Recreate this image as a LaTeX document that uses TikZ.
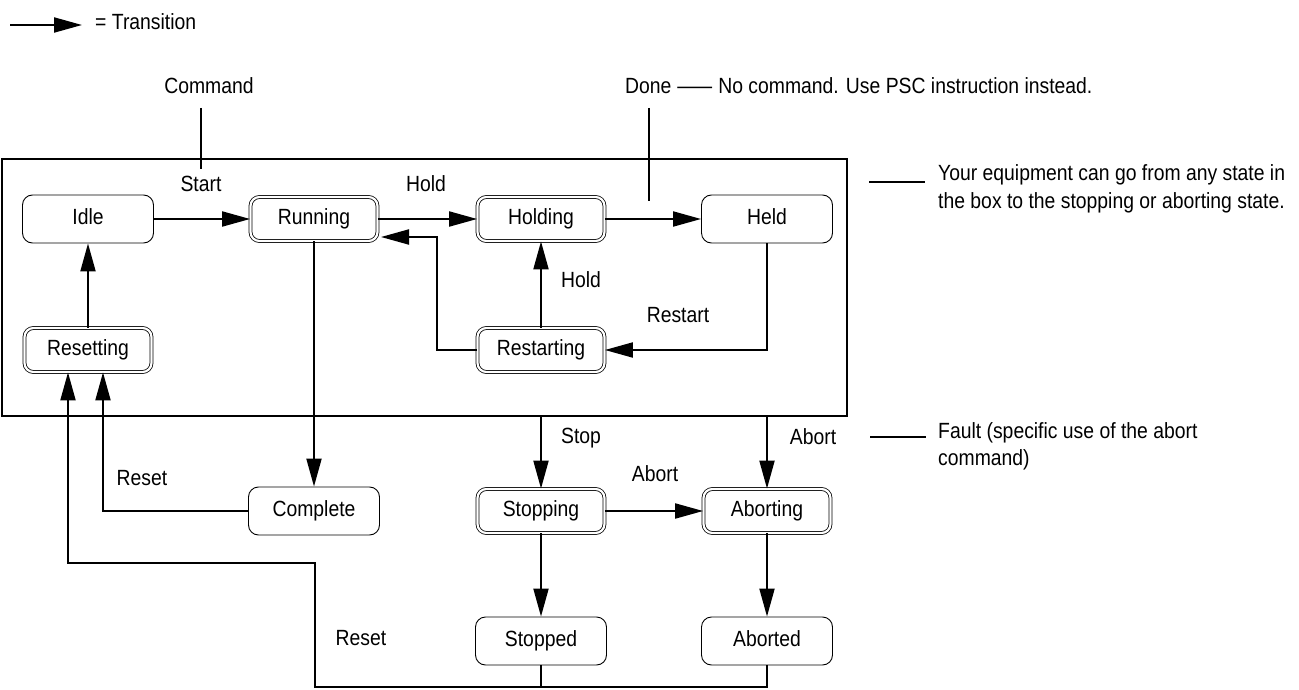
\documentclass[tikz,border=0pt]{standalone}
\usepackage{fontspec}
\setmainfont{Liberation Sans}[FakeStretch=0.88]
\usetikzlibrary{arrows.meta}
\newcommand\lblfont{\fontsize{22}{27}\selectfont}
\tikzset{
  state/.style={draw, line width=0.9pt, rounded corners=10pt, minimum width=131pt,
    minimum height=48pt, inner sep=0pt, text height=16pt, text depth=5pt, font=\lblfont},
  dstate/.style={state, double, double distance=2.2pt, line width=0.8pt,
    minimum width=127pt, minimum height=44pt, rounded corners=9pt},
  conn/.style={line width=2pt},
  arr/.style={conn, -{Triangle[length=28pt,width=15pt]}},
  lbl/.style={font=\lblfont, inner sep=0pt, anchor=base},
  note/.style={font=\lblfont, inner sep=0pt, anchor=base west},
  pointer/.style={line width=1.6pt}
}
\begin{document}
\begin{tikzpicture}[x=1pt,y=-1pt]
\useasboundingbox (0,0) rectangle (1299,690);

% legend
\coordinate (lgA) at (10,25);
\coordinate (lgB) at (82,25);
\draw[arr] (lgA) -- (lgB);
\node[note] (lgT) at (95,30) {= Transition};

% big box
\node[draw, line width=2pt, minimum width=845pt, minimum height=257pt, inner sep=0pt] (box) at (424.5,287.5) {};

% states
\node[state]  (idle)       at (88,219)  {Idle};
\node[dstate] (running)    at (314,219) {Running};
\node[dstate] (holding)    at (541,219) {Holding};
\node[state]  (held)       at (767,219) {Held};
\node[dstate] (resetting)  at (88,350)  {Resetting};
\node[dstate] (restarting) at (541,350) {Restarting};
\node[state]  (complete)   at (314,511) {Complete};
\node[dstate] (stopping)   at (541,511) {Stopping};
\node[dstate] (aborting)   at (767,511) {Aborting};
\node[state]  (stopped)    at (541,641) {Stopped};
\node[state]  (aborted)    at (767,641) {Aborted};

% top annotations
\node[lbl] (cmd) at (209,94) {Command};
\coordinate (cmdA) at (201,108);
\coordinate (cmdB) at (201,169);
\draw[conn] (cmdA) -- (cmdB);
\node[note] (done) at (625,94) {Done\hspace{6pt}\scalebox{1.8}[1]{—}\hspace{6pt}No command. Use PSC instruction instead.};
\coordinate (doneA) at (649,108);
\coordinate (doneB) at (649,201);
\draw[conn] (doneA) -- (doneB);

% right annotations
\coordinate (eqA) at (869,182);
\coordinate (eqB) at (925,182);
\draw[pointer] (eqA) -- (eqB);
\node[note] (eq1) at (938,181) {Your equipment can go from any state in};
\node[note] (eq2) at (938,208) {the box to the stopping or aborting state.};
\coordinate (ftA) at (870,437);
\coordinate (ftB) at (926,437);
\draw[pointer] (ftA) -- (ftB);
\node[note] (ft1) at (938,438) {Fault (specific use of the abort};
\node[note] (ft2) at (938,465) {command)};

% transitions inside the box
\draw[arr] (idle.east) -- (running.west);
\node[lbl] (lStart) at (201,191) {Start};
\draw[arr] (running.east) -- (holding.west);
\node[lbl] (lHold1) at (426,191) {Hold};
\draw[arr] (holding.east) -- (held.west);
\draw[arr] (restarting.north) -- (holding.south);
\node[lbl] (lHold2) at (581,287) {Hold};
\coordinate (rsTurn) at (437,237);
\coordinate (runIn) at (381,237);
\draw[arr] (restarting.west) -| (rsTurn) -- (runIn);
\draw[arr] (held.south) |- (restarting.east);
\node[lbl] (lRestart) at (678,322) {Restart};
\draw[arr] (resetting.north) -- (idle.south);

% leaving the box
\draw[arr] (running.south) -- (complete.north);
\draw[arr] (stopping.north |- box.south) -- (stopping.north);
\node[lbl] (lStop) at (581,443) {Stop};
\draw[arr] (aborting.north |- box.south) -- (aborting.north);
\node[lbl] (lAbort1) at (813,444) {Abort};
\draw[arr] (stopping.east) -- (aborting.west);
\node[lbl] (lAbort2) at (655,481) {Abort};
\draw[arr] (stopping.south) -- (stopped.north);
\draw[arr] (aborting.south) -- (aborted.north);

% reset paths
\draw[arr] (complete.west) -| ([xshift=15pt]resetting.south);
\node[lbl] (lReset1) at (142,485) {Reset};
\coordinate (bA) at (767,687);
\coordinate (bS) at (541,687);
\coordinate (bL) at (315,687);
\coordinate (bU) at (315,563);
\draw[arr] (aborted.south) -- (bA) -- (bL) -- (bU) -| ([xshift=-20pt]resetting.south);
\draw[conn] (stopped.south) -- (bS);
\node[lbl] (lReset2) at (361,645) {Reset};
\end{tikzpicture}
\end{document}
